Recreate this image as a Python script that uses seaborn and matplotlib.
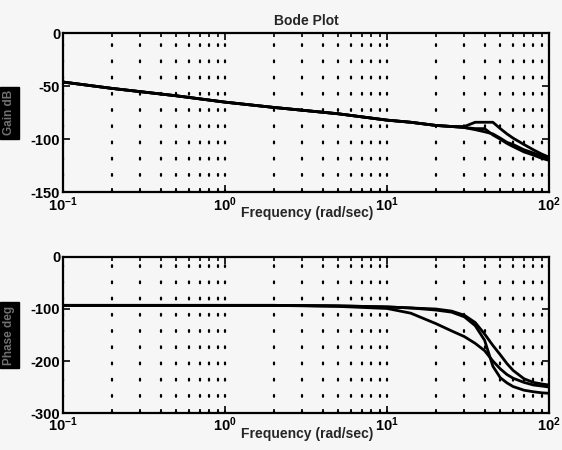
import numpy as np
import pandas as pd
import matplotlib
matplotlib.use("Agg")
import matplotlib.pyplot as plt
import matplotlib.ticker as mtick
import seaborn as sns

# ── Data (three model variants) ──────────────────────────────────────
freq = [0.1, 0.2, 0.5, 1, 2, 5, 10, 14, 20, 25, 30, 35, 40, 45, 50, 55, 60, 70, 80, 90, 100]

gain_a = [-46, -52, -59, -65, -70, -76, -82, -84, -87, -88, -88, -84, -84, -84, -90, -95, -99, -105, -110, -114, -117]
gain_b = [-46, -52, -59, -65, -70, -76, -82, -84, -87, -88, -89, -91, -93, -95, -99, -103, -105, -110, -113, -116, -118]
gain_c = [-46, -52, -59, -65, -70, -76, -82, -84, -87, -88, -89, -90, -90, -96, -100, -104, -107, -112, -115, -118, -120]

phase_a = [-93, -93, -93, -93, -93, -95, -99, -108, -128, -142, -153, -166, -180, -200, -215, -226, -233, -241, -246, -248, -250]
phase_b = [-93, -93, -93, -93, -93, -94, -96, -98, -102, -106, -115, -132, -160, -210, -232, -242, -249, -256, -259, -261, -262]
phase_c = [-93, -93, -93, -93, -93, -94, -96, -98, -100, -104, -112, -126, -148, -170, -188, -205, -218, -234, -241, -244, -246]

variants = ["A", "B", "C"]

gain_df = pd.DataFrame({
    "freq": freq * 3,
    "value": gain_a + gain_b + gain_c,
    "variant": np.repeat(variants, len(freq)),
})
phase_df = pd.DataFrame({
    "freq": freq * 3,
    "value": phase_a + phase_b + phase_c,
    "variant": np.repeat(variants, len(freq)),
})

# ── Style ────────────────────────────────────────────────────────────
sns.set_style("ticks")
plt.rcParams["font.family"] = ["Liberation Sans", "DejaVu Sans"]
plt.rcParams["axes.unicode_minus"] = False
plt.rcParams["mathtext.fontset"] = "custom"
plt.rcParams["mathtext.rm"] = "Liberation Sans:bold"
plt.rcParams["mathtext.it"] = "Liberation Sans:bold"
plt.rcParams["mathtext.bf"] = "Liberation Sans:bold"
plt.rcParams["mathtext.default"] = "regular"

BG = "#f6f6f6"
fig = plt.figure(figsize=(5.62, 4.5), dpi=100, facecolor=BG)
ax1 = fig.add_axes([0.112, 0.573, 0.865, 0.353])
ax2 = fig.add_axes([0.112, 0.082, 0.865, 0.347])

panels = [
    (ax1, gain_df, (-150, 0), [0, -50, -100, -150], "Gain dB"),
    (ax2, phase_df, (-300, 0), [0, -100, -200, -300], "Phase deg"),
]

for ax, data, ylim, yticks, ylab in panels:
    ax.set_facecolor(BG)
    sns.lineplot(data=data, x="freq", y="value", units="variant", estimator=None,
                 color="black", linewidth=2.0, ax=ax, legend=False)
    ax.set_xscale("log")
    ax.set_xlim(0.1, 100)
    ax.set_ylim(*ylim)
    ax.set_yticks(yticks)
    ax.xaxis.set_major_locator(mtick.LogLocator(base=10))
    ax.xaxis.set_minor_locator(mtick.LogLocator(base=10, subs=np.arange(2, 10)))
    ax.xaxis.set_minor_formatter(mtick.NullFormatter())
    ax.grid(True, which="both", axis="x", color="black",
            linestyle=(0, (0.8, 6.5)), linewidth=1.6, dash_capstyle="round")
    ax.tick_params(which="both", direction="in", top=True, right=True,
                   labelsize=10.5, width=1.2, colors="black", pad=2)
    ax.tick_params(which="major", length=5)
    ax.tick_params(which="minor", length=3)
    for lbl in ax.get_yticklabels() + ax.get_xticklabels():
        lbl.set_fontweight("bold")
    for sp in ax.spines.values():
        sp.set_visible(True)
        sp.set_linewidth(1.6)
        sp.set_color("black")
    ax.set_xlabel("Frequency (rad/sec)", fontsize=10, fontweight="bold")
    ax.xaxis.set_label_coords(0.503, -0.075, transform=None)
    ax.xaxis.label.set_verticalalignment("top")
    ax.set_ylabel(ylab, fontsize=8.5, color="#707070", fontweight="bold",
                  bbox=dict(facecolor="black", edgecolor="black", pad=2.5))
    ax.yaxis.set_label_coords(-0.098, 0.5)

# put the x labels just below the tick labels, as in the reference
ax1.xaxis.set_label_coords(0.503, -0.085)
ax2.xaxis.set_label_coords(0.503, -0.087)

ax1.set_title("Bode Plot", fontsize=10, fontweight="bold", pad=6)

plt.savefig("out.png", dpi=100, facecolor=BG)
plt.close()
